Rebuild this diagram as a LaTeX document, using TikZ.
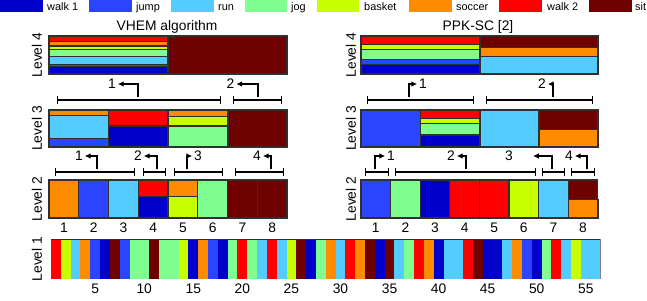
\documentclass[tikz,border=0pt]{standalone}
\usepackage{fontspec}
\setmainfont{Liberation Sans}
\usepackage{xcolor}
\usepackage{tikz}
\usetikzlibrary{arrows.meta}
\definecolor{ActWalkA}{HTML}{0000CC}
\definecolor{ActJump}{HTML}{2B45FF}
\definecolor{ActRun}{HTML}{55CCFF}
\definecolor{ActJog}{HTML}{7FFF8F}
\definecolor{ActBasket}{HTML}{C8FF00}
\definecolor{ActSoccer}{HTML}{FF8C00}
\definecolor{ActWalkB}{HTML}{FF0000}
\definecolor{ActSit}{HTML}{6E0000}
\definecolor{ActEdge}{HTML}{303030}
\tikzset{
  cell/.style={draw=ActEdge,line width=0.9pt},
  lbl/.style={font=\fontsize{11.8}{13}\selectfont,inner sep=1.5pt},
  lvl/.style={lbl,rotate=90},
  bracket/.style={{Bar[width=7pt]}-{Bar[width=7pt]},line width=1.1pt},
  turn/.style={-{Latex[length=5pt,width=5pt]},line width=1.1pt},
  key/.style={font=\fontsize{9.3}{11}\selectfont,anchor=base west,inner sep=0pt}
}

\begin{document}
\begin{tikzpicture}[x=0.03cm,y=-0.03cm]
\path[use as bounding box] (0,0) rectangle (647,300);
\fill[ActWalkA] (0,0) rectangle (43,12);
\node[key] (kwalka) at (47,10) {walk 1};
\fill[ActJump] (89,0) rectangle (132,12);
\node[key] (kjump) at (136,10) {jump};
\fill[ActRun] (171,0) rectangle (214,12);
\node[key] (krun) at (218,10) {run};
\fill[ActJog] (245,0) rectangle (287,12);
\node[key] (kjog) at (291,10) {jog};
\fill[ActBasket] (317,0) rectangle (359,12);
\node[key] (kbasket) at (364,10) {basket};
\fill[ActSoccer] (409,0) rectangle (452,12);
\node[key] (ksoccer) at (456,10) {soccer};
\fill[ActWalkB] (499,0) rectangle (542,12);
\node[key] (kwalkb) at (547,10) {walk 2};
\fill[ActSit] (589,0) rectangle (632,12);
\node[key] (ksit) at (635,10) {sit};
\node[lbl,anchor=base] (vhem) at (167,30) {VHEM algorithm};
\node[lbl,anchor=base] (ppk) at (478,30) {PPK-SC [2]};
\node[lvl] (levfa) at (37,55) {Level 4};
\node[lvl] (levta) at (37,128.5) {Level 3};
\node[lvl] (levsa) at (37,199) {Level 2};
\node[lvl] (levoa) at (37,259) {Level 1};
\node[lvl] (levfb) at (351,55) {Level 4};
\node[lvl] (levtb) at (351,128.5) {Level 3};
\node[lvl] (levsb) at (351,199) {Level 2};
\filldraw[cell,fill=ActWalkB] (49,36) rectangle (168,41.5);
\filldraw[cell,fill=ActSoccer] (49,41.5) rectangle (168,46);
\filldraw[cell,fill=ActBasket] (49,46) rectangle (168,49.3);
\filldraw[cell,fill=ActJog] (49,49.3) rectangle (168,56.5);
\filldraw[cell,fill=ActRun] (49,56.5) rectangle (168,64.3);
\filldraw[cell,fill=ActJump] (49,64.3) rectangle (168,66.7);
\filldraw[cell,fill=ActWalkA] (49,66.7) rectangle (168,74);
\filldraw[cell,fill=ActSit] (168,36) rectangle (287,74);
\filldraw[cell,fill=ActWalkB] (361,36) rectangle (480,44.3);
\filldraw[cell,fill=ActBasket] (361,44.3) rectangle (480,49.3);
\filldraw[cell,fill=ActJog] (361,49.3) rectangle (480,59.3);
\filldraw[cell,fill=ActJump] (361,59.3) rectangle (480,64.3);
\filldraw[cell,fill=ActWalkA] (361,64.3) rectangle (480,74);
\filldraw[cell,fill=ActSit] (480,36) rectangle (598,47.3);
\filldraw[cell,fill=ActSoccer] (480,47.3) rectangle (598,56.7);
\filldraw[cell,fill=ActRun] (480,56.7) rectangle (598,74);
\draw[bracket] (57,100) -- (221,100);
\draw[bracket] (233,100) -- (282,100);
\draw[bracket] (367,100) -- (474,100);
\draw[bracket] (486,100) -- (593,100);
\coordinate (ufa) at (138,96.5);
\node[lbl] (nfa) at (112,84) {1};
\draw[turn] (ufa) |- (nfa.east);
\coordinate (ufb) at (258,96.5);
\node[lbl] (nfb) at (230.5,84) {2};
\draw[turn] (ufb) |- (nfb.east);
\coordinate (ufc) at (409,96.5);
\node[lbl] (nfc) at (423,84) {1};
\draw[turn] (ufc) |- (nfc.west);
\coordinate (ufd) at (553,96.5);
\node[lbl] (nfd) at (542,84) {2};
\draw[turn] (ufd) |- (nfd.east);
\filldraw[cell,fill=ActSoccer] (49,110) rectangle (108.5,115.7);
\filldraw[cell,fill=ActRun] (49,115.7) rectangle (108.5,138.3);
\filldraw[cell,fill=ActJump] (49,138.3) rectangle (108.5,147);
\filldraw[cell,fill=ActWalkB] (108.5,110) rectangle (168,126);
\filldraw[cell,fill=ActWalkA] (108.5,126) rectangle (168,147);
\filldraw[cell,fill=ActSoccer] (168,110) rectangle (228,116.7);
\filldraw[cell,fill=ActBasket] (168,116.7) rectangle (228,126);
\filldraw[cell,fill=ActJog] (168,126) rectangle (228,147);
\filldraw[cell,fill=ActSit] (228,110) rectangle (287,147);
\filldraw[cell,fill=ActJump] (361,110) rectangle (420.5,147);
\filldraw[cell,fill=ActWalkB] (420.5,110) rectangle (480,118.5);
\filldraw[cell,fill=ActBasket] (420.5,118.5) rectangle (480,123.5);
\filldraw[cell,fill=ActJog] (420.5,123.5) rectangle (480,135);
\filldraw[cell,fill=ActWalkA] (420.5,135) rectangle (480,147);
\filldraw[cell,fill=ActRun] (480,110) rectangle (539,147);
\filldraw[cell,fill=ActSit] (539,110) rectangle (598,129.3);
\filldraw[cell,fill=ActSoccer] (539,129.3) rectangle (598,147);
\draw[bracket] (55,172) -- (135,172);
\draw[bracket] (143,172) -- (166,172);
\draw[bracket] (174,172) -- (223,172);
\draw[bracket] (235,172) -- (284,172);
\draw[bracket] (365,172) -- (389,172);
\draw[bracket] (395,172) -- (536,172);
\draw[bracket] (542,172) -- (565,172);
\draw[bracket] (571,172) -- (595,172);
\coordinate (uta) at (97,169);
\node[lbl] (nta) at (79,156) {1};
\draw[turn] (uta) |- (nta.east);
\coordinate (utb) at (157,169);
\node[lbl] (ntb) at (138,156) {2};
\draw[turn] (utb) |- (ntb.east);
\coordinate (utc) at (187,169);
\node[lbl] (ntc) at (198,156) {3};
\draw[turn] (utc) |- (ntc.west);
\coordinate (utd) at (271,169);
\node[lbl] (ntd) at (257,156) {4};
\draw[turn] (utd) |- (ntd.east);
\coordinate (ute) at (375,169);
\node[lbl] (nte) at (391,156) {1};
\draw[turn] (ute) |- (nte.west);
\coordinate (utf) at (466,169);
\node[lbl] (ntf) at (451,156) {2};
\draw[turn] (utf) |- (ntf.east);
\coordinate (utg) at (552,169);
\coordinate (htg) at (533,156);
\node[lbl] (ntg) at (509,156) {3};
\draw[turn] (utg) |- (htg);
\coordinate (uth) at (587,169);
\node[lbl] (nth) at (569,156) {4};
\draw[turn] (uth) |- (nth.east);
\foreach \c [count=\i from 0] in {ActSoccer,ActJump,ActRun,ActWalkB,ActSoccer,ActJog,ActSit,ActSit}
  \filldraw[cell,fill=\c] ({49+\i*29.75},180) rectangle ({49+(\i+1)*29.75},218);
\filldraw[cell,fill=ActWalkA] (138.25,196.7) rectangle (168,218);
\filldraw[cell,fill=ActBasket] (168,196.7) rectangle (197.75,218);
\foreach \c [count=\i from 0] in {ActJump,ActJog,ActWalkA,ActWalkB,ActWalkB,ActBasket,ActRun,ActSit}
  \filldraw[cell,fill=\c] ({361+\i*29.6},180) rectangle ({361+(\i+1)*29.6},218);
\filldraw[cell,fill=ActSoccer] (568.2,199.3) rectangle (598,218);
\foreach \i in {1,...,8} {
  \node[lbl] (cla\i) at ({49+(\i-0.5)*29.75},227.5) {\i};
  \node[lbl] (clb\i) at ({361+(\i-0.5)*29.6},227.5) {\i};
}
\foreach \c [count=\k] in {ActWalkB,ActBasket,ActRun,ActSoccer,ActJump,ActWalkA,ActSit,ActJump,
    ActJog,ActJog,ActSit,ActJog,ActJog,ActBasket,ActWalkA,ActSoccer,ActJump,ActWalkA,ActJog,ActWalkB,
    ActJog,ActRun,ActWalkB,ActRun,ActBasket,ActSit,ActWalkA,ActJog,ActSoccer,ActRun,ActWalkB,ActSoccer,
    ActSit,ActWalkA,ActSit,ActRun,ActJog,ActWalkB,ActSoccer,ActWalkA,ActRun,ActRun,ActWalkB,ActSit,
    ActWalkA,ActWalkA,ActRun,ActSoccer,ActJump,ActWalkA,ActJog,ActWalkB,ActRun,ActBasket,ActRun,ActRun}
  \fill[\c] ({51+(\k-1)*9.813},239) rectangle ({51+\k*9.813},279);
\draw[ActEdge,line width=0.7pt] (51,239) -- (600.5,239);
\draw[gray,line width=0.7pt] (600.5,239) -- (600.5,279);
\foreach \t in {5,10,...,55}
  \node[lbl] (tick\t) at ({51+(\t-0.5)*9.813},289) {\t};
\end{tikzpicture}
\end{document}
